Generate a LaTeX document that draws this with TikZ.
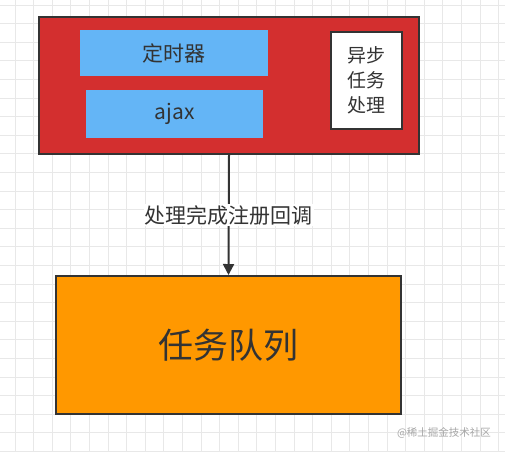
\documentclass[tikz,border=0pt]{standalone}
\usepackage{fontspec}
\setmainfont{Noto Sans CJK SC}
\usepackage{tikz}
\usetikzlibrary{arrows.meta}

\definecolor{boxred}{HTML}{D32F2F}
\definecolor{boxblue}{HTML}{64B5F6}
\definecolor{boxorange}{HTML}{FF9800}
\definecolor{edgegray}{HTML}{333333}
\definecolor{gridgray}{HTML}{E8E8E8}

\begin{document}
\begin{tikzpicture}[x=1pt,y=-1pt,>={Triangle[length=11pt,width=11pt]},
    box/.style={draw=edgegray,line width=2pt,inner sep=0pt,anchor=north west},
    task/.style={fill=boxblue,inner sep=0pt,anchor=north west,text=edgegray,font=\fontsize{21}{25}\selectfont}]
        \useasboundingbox (0,0) rectangle (505,451);
        \fill[white] (0,0) rectangle (505,451);
        \foreach \i in {0,...,27} {
          \draw[gridgray,line width=0.8pt] (15+18.6*\i,0) -- (15+18.6*\i,451);
        }
        \foreach \j in {0,...,24} {
          \draw[gridgray,line width=0.8pt] (0,5+18.6*\j) -- (505,5+18.6*\j);
        }

        \node[box,fill=boxred,minimum width=380pt,minimum height=137pt] (async) at (38,16) {};
        \node[task,minimum width=188pt,minimum height=46pt] (timer) at (80,30) {定时器};
        \node[task,minimum width=177pt,minimum height=48pt] (ajax) at (86,90) {ajax};
        \node[box,fill=white,minimum width=71pt,minimum height=97pt,text=edgegray,
              font=\fontsize{19}{25}\selectfont,align=center] (handle) at (330,31)
              {异步\\任务\\处理};
        \node[box,fill=boxorange,minimum width=345pt,minimum height=138pt,text=edgegray,
              font=\fontsize{35}{40}\selectfont] (queue) at (55,275) {任务队列};

        \draw[->,edgegray,line width=2pt] (async.south) -- (queue.north)
          node[midway,fill=white,inner sep=1pt,text=edgegray,
               font=\fontsize{21}{25}\selectfont] (cb) {处理完成注册回调};

        \node[text=gray!70,font=\fontsize{10.5}{12}\selectfont] (mark) at (444,433) {@稀土掘金技术社区};
      \end{tikzpicture}
\end{document}
